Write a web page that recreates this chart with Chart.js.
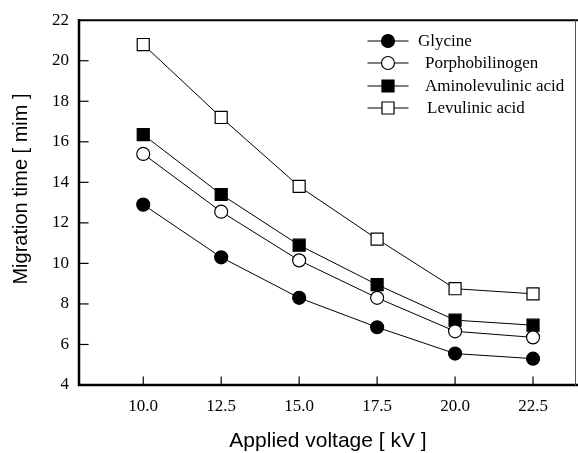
<!DOCTYPE html>
<html>
<head>
<meta charset="utf-8">
<script src="https://cdn.jsdelivr.net/npm/chart.js@4"></script>
<style>
  html, body { margin: 0; padding: 0; background: #fff; }
  #wrap { width: 578px; height: 453px; }
</style>
</head>
<body>
<div id="wrap"><canvas id="migrationChart" width="578" height="453"></canvas></div>
<script>
// applied voltage (kV)
const voltages = [10.0, 12.5, 15.0, 17.5, 20.0, 22.5];
// migration times (min)
const glycine = [12.9, 10.3, 8.3, 6.85, 5.55, 5.3];
const porphobilinogen = [15.4, 12.55, 10.15, 8.3, 6.65, 6.35];
const aminolevulinic = [16.35, 13.4, 10.9, 8.95, 7.2, 6.95];
const levulinic = [20.8, 17.2, 13.8, 11.2, 8.75, 8.5];
const seriesNames = ['Glycine', 'Porphobilinogen', 'Aminolevulinic acid', 'Levulinic acid'];
const xTicks = [10.0, 12.5, 15.0, 17.5, 20.0, 22.5];
const yTicks = [4, 6, 8, 10, 12, 14, 16, 18, 20, 22];
const yTitle = 'Migration time [ mim ]';

const serif = '"Liberation Serif", "Times New Roman", serif';
const sans = '"Liberation Sans", Arial, sans-serif';

function toPoints(vals) {
    return vals.map((v, i) => ({x: voltages[i], y: v}));
}

// marker look for each series
const markers = [
    {style: 'circle', fill: '#000', radius: 6.5},
    {style: 'circle', fill: '#fff', radius: 6.5},
    {style: 'rect', fill: '#000', radius: 8.5},
    {style: 'rect', fill: '#fff', radius: 8.5}
];

function makeSet(i, vals) {
    const m = markers[i];
    return {
        label: seriesNames[i],
        data: toPoints(vals),
        borderColor: '#000',
        borderWidth: 1,
        pointStyle: m.style,
        pointRadius: m.radius,
        pointHoverRadius: m.radius,
        pointBackgroundColor: m.fill,
        pointBorderColor: '#000',
        pointBorderWidth: 1.2,
        tension: 0,
        fill: false
    };
}

// frame, inward ticks, y title and the legend inside the plot
const framePlugin = {
    id: 'framePlugin',
    afterDraw(chart) {
        const ctx = chart.ctx;
        const a = chart.chartArea;
        const xs = chart.scales.x;
        const ys = chart.scales.y;
        ctx.save();
        ctx.strokeStyle = '#000';
        ctx.lineCap = 'square';

        // left + bottom axis (thick)
        ctx.lineWidth = 2.5;
        ctx.beginPath();
        ctx.moveTo(a.left, a.top);
        ctx.lineTo(a.left, a.bottom);
        ctx.lineTo(a.right, a.bottom);
        ctx.stroke();
        // top
        ctx.lineWidth = 2;
        ctx.beginPath();
        ctx.moveTo(a.left, a.top);
        ctx.lineTo(a.right, a.top);
        ctx.stroke();
        // right (thin, greyish in the scan)
        ctx.lineWidth = 1;
        ctx.strokeStyle = '#555';
        ctx.beginPath();
        ctx.moveTo(a.right - 1.5, a.top);
        ctx.lineTo(a.right - 1.5, a.bottom);
        ctx.stroke();
        ctx.strokeStyle = '#000';

        // inward ticks
        ctx.lineWidth = 1.2;
        xTicks.forEach(v => {
            const px = xs.getPixelForValue(v);
            ctx.beginPath();
            ctx.moveTo(px, a.bottom);
            ctx.lineTo(px, a.bottom - 8);
            ctx.stroke();
        });
        yTicks.forEach(v => {
            if (v === 4 || v === 22) return;
            const py = ys.getPixelForValue(v);
            ctx.beginPath();
            ctx.moveTo(a.left, py);
            ctx.lineTo(a.left + 9, py);
            ctx.stroke();
        });

        // y axis title (sits a bit above the plot centre in the original)
        ctx.save();
        ctx.translate(27, 189);
        ctx.rotate(-Math.PI / 2);
        ctx.font = '20px ' + sans;
        ctx.textAlign = 'center';
        ctx.textBaseline = 'alphabetic';
        ctx.fillStyle = '#000';
        ctx.fillText(yTitle, 0, 0);
        ctx.restore();

        // legend
        const lx1 = 368, lx2 = 408, mx = 388;
        const rows = [41, 63, 86, 108];
        const textX = [418, 425, 425, 427];
        ctx.font = '17px ' + serif;
        ctx.textBaseline = 'middle';
        ctx.textAlign = 'left';
        chart.data.datasets.forEach((ds, i) => {
            const y = rows[i];
            const m = markers[i];
            ctx.lineWidth = 1;
            ctx.beginPath();
            ctx.moveTo(lx1, y);
            ctx.lineTo(lx2, y);
            ctx.stroke();
            ctx.beginPath();
            if (m.style === 'circle') {
                ctx.arc(mx, y, m.radius, 0, Math.PI * 2);
            } else {
                const s = m.radius * Math.SQRT1_2;
                ctx.rect(mx - s, y - s, 2 * s, 2 * s);
            }
            ctx.fillStyle = m.fill;
            ctx.fill();
            ctx.lineWidth = 1.2;
            ctx.stroke();
            ctx.fillStyle = '#000';
            ctx.fillText(ds.label, textX[i], y + 1);
        });
        ctx.restore();
    }
};

const ctx = document.getElementById('migrationChart').getContext('2d');
const migrationChart = new Chart(ctx, {
    type: 'line',
    data: {
        datasets: [
            makeSet(0, glycine),
            makeSet(1, porphobilinogen),
            makeSet(2, aminolevulinic),
            makeSet(3, levulinic)
        ]
    },
    options: {
        responsive: false,
        animation: false,
        devicePixelRatio: 1,
        layout: {
            autoPadding: false,
            padding: {top: 20, right: 1, left: 0, bottom: 0}
        },
        plugins: {
            legend: {display: false},
            tooltip: {enabled: false}
        },
        scales: {
            x: {
                type: 'linear',
                min: 7.94,
                max: 23.91,
                afterBuildTicks(scale) {
                    scale.ticks = xTicks.map(v => ({value: v}));
                },
                afterFit(scale) {
                    scale.height = 68;
                    scale.paddingLeft = 0;
                    scale.paddingRight = 0;
                },
                grid: {display: true, drawOnChartArea: false, drawTicks: false},
                border: {display: false},
                ticks: {
                    color: '#000',
                    font: {family: serif, size: 17},
                    padding: 11,
                    maxRotation: 0,
                    callback: v => Number(v).toFixed(1)
                },
                title: {
                    display: true,
                    text: 'Applied voltage [ kV ]',
                    color: '#000',
                    font: {family: sans, size: 21, lineHeight: 1.0},
                    padding: {top: 0, bottom: 1}
                }
            },
            y: {
                type: 'linear',
                min: 4,
                max: 22,
                afterBuildTicks(scale) {
                    scale.ticks = yTicks.map(v => ({value: v}));
                },
                afterFit(scale) {
                    scale.width = 79;
                },
                grid: {display: true, drawOnChartArea: false, drawTicks: false},
                border: {display: false},
                ticks: {
                    color: '#000',
                    font: {family: serif, size: 17},
                    padding: 10
                }
            }
        }
    },
    plugins: [framePlugin]
});
</script>
</body>
</html>
